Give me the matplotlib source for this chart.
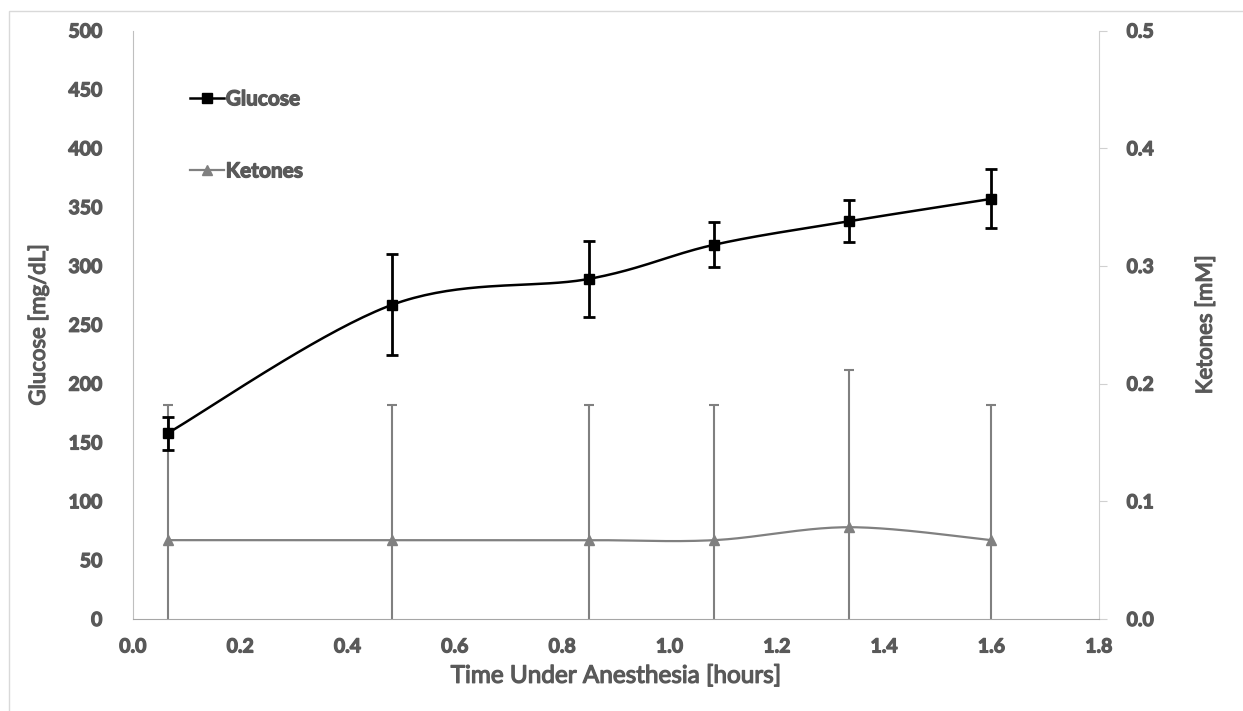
import numpy as np
import matplotlib
matplotlib.use("Agg")
import matplotlib.pyplot as plt
import matplotlib.patheffects as pe
from matplotlib.patches import Rectangle
from matplotlib.ticker import FormatStrFormatter

# data
time_h = [0.065, 0.483, 0.85, 1.083, 1.335, 1.6]
glucose = [158, 267, 289, 318, 338, 357]
glucose_err = [14, 43, 32, 19, 18, 25]
ketones = [0.067, 0.067, 0.067, 0.067, 0.078, 0.067]
ketones_err = [0.115, 0.115, 0.115, 0.115, 0.134, 0.115]

TEXT = "#595959"
plt.rcParams["font.family"] = ["Lato", "DejaVu Sans"]
plt.rcParams["font.weight"] = "bold"
# faux bold: thin outline around the glyphs
BOLD = [pe.withStroke(linewidth=0.9, foreground=TEXT)]


def smooth(x, y, n=40):
    # Excel-style smoothed line (Catmull-Rom bezier through the points)
    x = np.asarray(x, float)
    y = np.asarray(y, float)
    px = np.concatenate([[x[0]], x, [x[-1]]])
    py = np.concatenate([[y[0]], y, [y[-1]]])
    xs, ys = [], []
    t = np.linspace(0, 1, n)
    for i in range(1, len(px) - 2):
        p0 = np.array([px[i], py[i]])
        p3 = np.array([px[i + 1], py[i + 1]])
        p1 = p0 + (p3 - np.array([px[i - 1], py[i - 1]])) / 6
        p2 = p3 - (np.array([px[i + 2], py[i + 2]]) - p0) / 6
        b = ((1 - t) ** 3)[:, None] * p0 + (3 * (1 - t) ** 2 * t)[:, None] * p1 \
            + (3 * (1 - t) * t ** 2)[:, None] * p2 + (t ** 3)[:, None] * p3
        xs.extend(b[:, 0])
        ys.extend(b[:, 1])
    return xs, ys


fig = plt.figure(figsize=(12.43, 7.11), dpi=100)
ax = fig.add_axes([0.107, 0.1294, 0.777, 0.8276])
ax2 = ax.twinx()

# ketones on secondary axis
kx, ky = smooth(time_h, ketones)
ax2.plot(kx, ky, color="#808080", lw=1.6, zorder=2)
ax2.errorbar(time_h, ketones, yerr=ketones_err, fmt="none", ecolor="#808080",
             elinewidth=1.5, capsize=3.5, capthick=1.5, zorder=2)
ax2.plot(time_h, ketones, ls="none", marker="^", ms=7, color="#808080", zorder=3)

# glucose on primary axis (drawn above ketones)
ax.set_zorder(ax2.get_zorder() + 1)
ax.patch.set_visible(False)
gx, gy = smooth(time_h, glucose)
ax.plot(gx, gy, color="black", lw=1.8, zorder=2)
ax.errorbar(time_h, glucose, yerr=glucose_err, fmt="none", ecolor="black",
            elinewidth=2, capsize=4, capthick=2, zorder=2)
ax.plot(time_h, glucose, ls="none", marker="s", ms=7, color="black", zorder=3)

ax.set_xlim(0, 1.8)
ax.set_ylim(0, 500)
ax2.set_ylim(0, 0.5)
ax.set_xticks(np.arange(0, 1.81, 0.2))
ax.set_yticks(np.arange(0, 501, 50))
ax2.set_yticks(np.arange(0, 0.51, 0.1))
ax.xaxis.set_major_formatter(FormatStrFormatter("%.1f"))
ax2.yaxis.set_major_formatter(FormatStrFormatter("%.1f"))

for a in (ax, ax2):
    for s in a.spines.values():
        s.set_visible(False)
ax.spines["left"].set_visible(True)
ax.spines["left"].set_color("#BFBFBF")
ax.spines["bottom"].set_visible(True)
ax.spines["bottom"].set_color("#A6A6A6")
ax2.spines["right"].set_visible(True)
ax2.spines["right"].set_color("#D0D0D0")

ax.tick_params(axis="both", length=0, labelsize=14, labelcolor=TEXT)
ax.tick_params(axis="y", pad=22)
ax.tick_params(axis="x", pad=14)
ax2.tick_params(axis="y", length=6, color="#D0D0D0", labelsize=14,
                labelcolor=TEXT, pad=14)
for lab in ax.get_xticklabels() + ax.get_yticklabels() + ax2.get_yticklabels():
    lab.set_path_effects(BOLD)

ax.set_xlabel("Time Under Anesthesia [hours]", fontsize=17.5, color=TEXT,
              labelpad=7, path_effects=BOLD)
ax.set_ylabel("Glucose [mg/dL]", fontsize=16, color=TEXT, labelpad=14,
              path_effects=BOLD)
ax2.set_ylabel("Ketones [mM]", fontsize=16, color=TEXT, labelpad=30,
               path_effects=BOLD)

# legend
h1 = ax.plot([], [], color="black", lw=1.8, marker="s", ms=7)[0]
h2 = ax.plot([], [], color="#808080", lw=1.6, marker="^", ms=7)[0]
leg = ax.legend([h1, h2], ["Glucose", "Ketones"], loc="upper left",
                bbox_to_anchor=(0.04, 0.932), frameon=False, fontsize=15,
                handlelength=1.6, handletextpad=0.1, labelspacing=2.5,
                markerscale=1.0)
for t in leg.get_texts():
    t.set_color(TEXT)
    t.set_path_effects(BOLD)

# chart border
fig.patches.append(Rectangle((9 / 1243, -0.01), 1.02, 1 - 11 / 711 + 0.01,
                             transform=fig.transFigure, fill=False,
                             edgecolor="#D9D9D9", lw=1))

fig.savefig("out.png", dpi=100)
